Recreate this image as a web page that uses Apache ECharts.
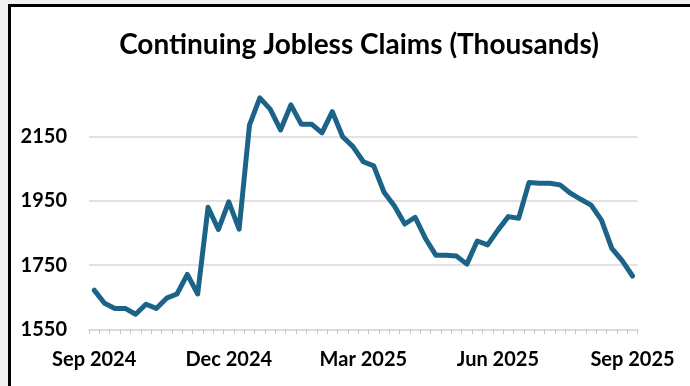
<!DOCTYPE html>
<html>
<head>
<meta charset="utf-8">
<script src="https://cdn.jsdelivr.net/npm/echarts@6/dist/echarts.min.js"></script>
<style>
  html, body { margin: 0; padding: 0; width: 690px; height: 386px; overflow: hidden; background: #f1f1f1; }
  #frame { position: absolute; left: 8px; top: 4px; width: 720px; height: 420px;
           background: #ffffff; border-left: 3.5px solid #000; border-top: 3.5px solid #000; }
  #chart { position: absolute; left: 0; top: 0; width: 690px; height: 386px; }
</style>
</head>
<body>
<div id="frame"></div>
<div id="chart"></div>
<script>
// Weekly continuing jobless claims, thousands (Sep 2024 – Sep 2025)
const weeks = [
  'Sep 2024','w1','w2','w3','w4','w5','w6','w7','w8','w9','w10','w11','w12',
  'Dec 2024','w14','w15','w16','w17','w18','w19','w20','w21','w22','w23','w24','w25',
  'Mar 2025','w27','w28','w29','w30','w31','w32','w33','w34','w35','w36','w37','w38',
  'Jun 2025','w40','w41','w42','w43','w44','w45','w46','w47','w48','w49','w50','w51',
  'Sep 2025'
];
const claims = [
  1672, 1631, 1615, 1615, 1597, 1628, 1615, 1647, 1660, 1721, 1660, 1930, 1861,
  1947, 1862, 2186, 2271, 2236, 2171, 2249, 2189, 2189, 2162, 2228, 2150, 2119,
  2072, 2059, 1977, 1934, 1878, 1899, 1833, 1781, 1781, 1778, 1753, 1825, 1813,
  1859, 1901, 1896, 2007, 2005, 2005, 2000, 1974, 1955, 1937, 1890, 1802, 1764,
  1716
];
const yTicks = [1550, 1750, 1950, 2150];

const font = 'Lato, "Open Sans", sans-serif';
const chart = echarts.init(document.getElementById('chart'), null, { renderer: 'canvas' });
chart.setOption({
  backgroundColor: 'transparent',
  animation: false,
  title: {
    text: 'Continuing Jobless Claims (Thousands)',
    left: 354, top: 26, textAlign: 'center',
    textStyle: { fontFamily: font, fontWeight: 'bold', fontSize: 28, color: '#000' }
  },
  grid: { left: 89, right: 52.3, top: 72.5, bottom: 56.7 },
  xAxis: {
    type: 'category',
    data: weeks,
    boundaryGap: true,
    axisLine: { lineStyle: { color: '#d9d9d9', width: 1.5 } },
    axisTick: { show: true, interval: 0, length: 5, lineStyle: { color: '#c8c8c8' } },
    axisLabel: {
      interval: 12, margin: 20,
      fontFamily: font, fontWeight: 'bold', fontSize: 20, color: '#000',
      formatter: v => (v.charAt(0) === 'w' ? '' : v)
    }
  },
  yAxis: {
    type: 'value',
    min: yTicks[0], max: 2350, interval: 200,
    axisLine: { show: false },
    axisTick: { show: false },
    axisLabel: {
      margin: 22, showMaxLabel: false,
      fontFamily: font, fontWeight: 'bold', fontSize: 20, color: '#000',
      formatter: v => (yTicks.includes(v) ? String(v) : '')
    },
    splitLine: {
      lineStyle: { color: ['#d9d9d9', '#d9d9d9', '#d9d9d9', '#d9d9d9', 'rgba(0,0,0,0)'], width: 1.5 }
    }
  },
  series: [{
    type: 'line',
    data: claims,
    showSymbol: false,
    smooth: false,
    lineStyle: { color: '#1b6488', width: 5, join: 'round', cap: 'round' }
  }]
});
</script>
</body>
</html>
